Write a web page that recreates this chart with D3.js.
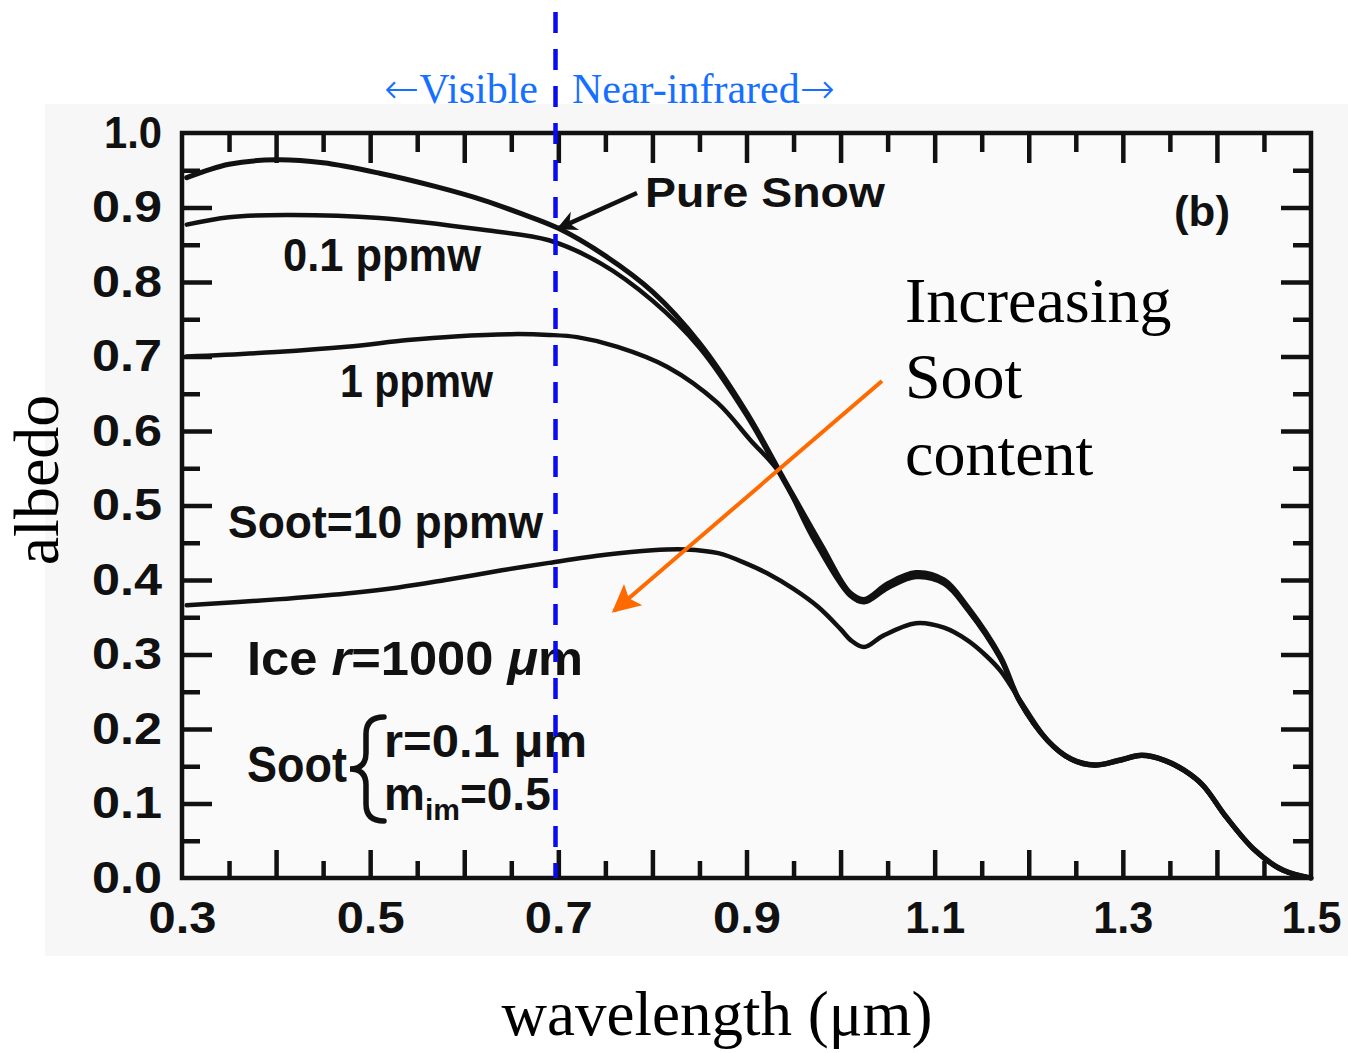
<!DOCTYPE html>
<html>
<head>
<meta charset="utf-8">
<title>Snow albedo vs wavelength</title>
<script src="https://cdn.jsdelivr.net/npm/d3@7"></script>
<style>
  body { margin: 0; background: #fff; }
  .scan { font-family: "Liberation Sans", Arial, sans-serif; font-weight: bold; fill: #111; }
  .serif { font-family: "Liberation Serif", "Times New Roman", serif; }
  .arrowGlyph { font-family: "DejaVu Sans", sans-serif; font-weight: 200; }
</style>
</head>
<body>
<svg id="chart"></svg>
<script>
// ---- data (wavelength in µm, albedo) ----
var snowWl  = [0.305,0.35,0.40,0.45,0.51,0.57,0.62,0.66,0.70,0.75,0.80,0.85,0.90,0.94,0.98,1.01,1.025,1.05,1.08,1.11,1.135,1.17,1.19,1.22,1.245,1.27,1.295,1.32,1.345,1.365,1.385,1.41,1.44,1.47,1.50];
var snowAlb = [0.94,0.958,0.964,0.96,0.946,0.928,0.91,0.892,0.872,0.835,0.787,0.718,0.625,0.535,0.446,0.383,0.374,0.395,0.41,0.40,0.364,0.297,0.239,0.185,0.16,0.152,0.158,0.165,0.158,0.145,0.125,0.082,0.038,0.011,0.0];

var soot01Wl  = [0.305,0.35,0.41,0.51,0.62,0.69,0.745,0.80,0.85,0.90,0.94,0.98,1.01,1.025,1.05,1.08,1.11,1.135,1.17,1.19,1.22,1.245,1.27,1.295,1.32,1.345,1.365,1.385,1.41,1.44,1.47,1.50];
var soot01Alb = [0.877,0.887,0.89,0.886,0.87,0.856,0.825,0.775,0.712,0.621,0.532,0.443,0.381,0.372,0.392,0.407,0.397,0.361,0.295,0.238,0.184,0.159,0.151,0.157,0.164,0.157,0.144,0.124,0.081,0.037,0.010,0.0];

var soot1Wl  = [0.305,0.40,0.475,0.54,0.59,0.65,0.69,0.72,0.763,0.816,0.869,0.904,0.935,0.97,1.01,1.025,1.05,1.08,1.11,1.135,1.17,1.19,1.22,1.245,1.27,1.295,1.32,1.345,1.365,1.385,1.41,1.44,1.47,1.50];
var soot1Alb = [0.70,0.706,0.713,0.722,0.727,0.73,0.729,0.726,0.713,0.686,0.638,0.588,0.544,0.458,0.379,0.370,0.389,0.404,0.395,0.360,0.294,0.237,0.184,0.159,0.151,0.157,0.164,0.157,0.144,0.124,0.081,0.037,0.010,0.0];

var soot10Wl  = [0.305,0.40,0.475,0.53,0.58,0.64,0.69,0.75,0.80,0.835,0.87,0.90,0.922,0.95,0.976,1.00,1.011,1.025,1.045,1.08,1.11,1.135,1.155,1.17,1.19,1.22,1.245,1.27,1.295,1.32,1.345,1.365,1.385,1.41,1.44,1.47,1.50];
var soot10Alb = [0.366,0.374,0.382,0.39,0.40,0.413,0.423,0.434,0.44,0.441,0.436,0.422,0.409,0.388,0.364,0.334,0.319,0.31,0.325,0.342,0.336,0.319,0.298,0.278,0.24,0.185,0.16,0.152,0.158,0.165,0.158,0.145,0.125,0.082,0.038,0.011,0.0];

var xLabels = [0.3, 0.5, 0.7, 0.9, 1.1, 1.3, 1.5];
var yLabels = [0, 0.1, 0.2, 0.3, 0.4, 0.5, 0.6, 0.7, 0.8, 0.9, 1.0];
var boundaryWl = 0.697;   // visible / near-infrared divide

var width = 1348, height = 1053;
var svg = d3.select("#chart").attr("width", width).attr("height", height);

var x = d3.scaleLinear().domain([0.3, 1.5]).range([182, 1311]);
var y = d3.scaleLinear().domain([0, 1]).range([878, 133]);

// scanned-paper background
svg.append("rect").attr("x", 45).attr("y", 104).attr("width", width - 45).attr("height", 852)
  .attr("fill", "#f7f7f7");
svg.append("rect").attr("x", x(0.3)).attr("y", y(1)).attr("width", x(1.5) - x(0.3)).attr("height", y(0) - y(1))
  .attr("fill", "#fafafa");

// inward ticks on all four sides: long every 0.1, short in between
var xMajor = d3.range(4, 15).map(function (d) { return d / 10; });
var xMinor = d3.range(3, 15).map(function (d) { return d / 10 + 0.05; });
var yMajor = d3.range(1, 10).map(function (d) { return d / 10; });
var yMinor = d3.range(0, 10).map(function (d) { return d / 10 + 0.05; });

function tickAxis(gen, scale, vals, size, tx, ty) {
  var g = svg.append("g").attr("transform", "translate(" + tx + "," + ty + ")")
    .call(gen(scale).tickValues(vals).tickSize(size).tickSizeOuter(0).tickFormat(""));
  g.select(".domain").remove();
  g.selectAll("line").attr("stroke", "#111").attr("stroke-width", 4.5);
}
tickAxis(d3.axisBottom, x, xMajor, -28, 0, y(0));
tickAxis(d3.axisBottom, x, xMinor, -17, 0, y(0));
tickAxis(d3.axisTop, x, xMajor, -30, 0, y(1));
tickAxis(d3.axisTop, x, xMinor, -19, 0, y(1));
tickAxis(d3.axisLeft, y, yMajor, -30, x(0.3), 0);
tickAxis(d3.axisLeft, y, yMinor, -18, x(0.3), 0);
tickAxis(d3.axisRight, y, yMajor, -30, x(1.5), 0);
tickAxis(d3.axisRight, y, yMinor, -18, x(1.5), 0);

// frame
svg.append("rect").attr("x", x(0.3)).attr("y", y(1)).attr("width", x(1.5) - x(0.3)).attr("height", y(0) - y(1))
  .attr("fill", "none").attr("stroke", "#111").attr("stroke-width", 4.5);

// tick labels
var xl = svg.append("g").attr("transform", "translate(0," + y(0) + ")")
  .call(d3.axisBottom(x).tickValues(xLabels).tickSize(0).tickPadding(24).tickFormat(d3.format(".1f")));
xl.select(".domain").remove();
xl.selectAll("text").attr("class", "scan").style("font-size", "44px")
  .attr("dy", "0.71em").attr("textLength", function (d) { return d >= 1 ? 60 : 68; })
  .attr("lengthAdjust", "spacingAndGlyphs");

var yl = svg.append("g").attr("transform", "translate(" + (x(0.3) - 20) + ",0)")
  .call(d3.axisLeft(y).tickValues(yLabels).tickSize(0).tickPadding(0).tickFormat(d3.format(".1f")));
yl.select(".domain").remove();
yl.selectAll("text").attr("class", "scan").style("font-size", "44px")
  .attr("textLength", function (d) { return d === 1 ? 58 : 70; })
  .attr("lengthAdjust", "spacingAndGlyphs");

// curves
var line = d3.line().x(function (d) { return x(d[0]); }).y(function (d) { return y(d[1]); })
  .curve(d3.curveCatmullRom.alpha(0.5));
var series = [
  { wl: soot10Wl, alb: soot10Alb, w: 4.5 },
  { wl: soot1Wl, alb: soot1Alb, w: 4.5 },
  { wl: soot01Wl, alb: soot01Alb, w: 4.5 },
  { wl: snowWl, alb: snowAlb, w: 5 }
];
series.forEach(function (s) {
  svg.append("path").datum(d3.zip(s.wl, s.alb)).attr("d", line)
    .attr("fill", "none").attr("stroke", "#111").attr("stroke-width", s.w)
    .attr("stroke-linejoin", "round").attr("stroke-linecap", "round");
});

// labels inside the scanned figure
function scanText(txt, px, py, size, len) {
  return svg.append("text").attr("class", "scan").attr("x", px).attr("y", py)
    .style("font-size", size + "px").attr("textLength", len).attr("lengthAdjust", "spacingAndGlyphs").text(txt);
}
scanText("Pure Snow", 645, 207, 42, 240);
scanText("(b)", 1174, 226, 42, 56);
scanText("0.1 ppmw", 283, 271, 46, 198);
scanText("1 ppmw", 340, 397, 46, 153);
scanText("Soot=10 ppmw", 228, 538, 46, 315);

var ice = svg.append("text").attr("class", "scan").attr("x", 247).attr("y", 675).style("font-size", "48px")
  .attr("textLength", 336).attr("lengthAdjust", "spacingAndGlyphs");
ice.append("tspan").text("Ice  ");
ice.append("tspan").style("font-style", "italic").text("r");
ice.append("tspan").text("=1000 ");
ice.append("tspan").style("font-style", "italic").text("μ");
ice.append("tspan").text("m");

scanText("Soot", 247, 782, 50, 100);
scanText("r=0.1 μm", 384, 757, 46, 203);
var mim = svg.append("text").attr("class", "scan").attr("x", 384).attr("y", 810).style("font-size", "46px");
mim.append("tspan").text("m");
mim.append("tspan").attr("dy", 10).style("font-size", "30px").text("im");
mim.append("tspan").attr("dy", -10).text("=0.5");

// curly brace joining the two soot parameters
var bp = d3.path();
bp.moveTo(384, 717);
bp.quadraticCurveTo(366, 717, 366, 734);
bp.lineTo(366, 753);
bp.quadraticCurveTo(366, 769, 350, 769);
bp.quadraticCurveTo(366, 769, 366, 785);
bp.lineTo(366, 804);
bp.quadraticCurveTo(366, 821, 384, 821);
svg.append("path").attr("d", bp.toString()).attr("fill", "none").attr("stroke", "#111")
  .attr("stroke-width", 5.5).attr("stroke-linecap", "round");

// arrow pointing at the pure-snow curve
var defs = svg.append("defs");
defs.append("marker").attr("id", "blackHead").attr("viewBox", "0 0 10 10").attr("refX", 9).attr("refY", 5)
  .attr("markerWidth", 8).attr("markerHeight", 4.5).attr("markerUnits", "strokeWidth").attr("orient", "auto")
  .append("path").attr("d", "M0,0 L10,5 L0,10 L3,5 Z").attr("fill", "#111");
svg.append("line").attr("x1", 637).attr("y1", 193).attr("x2", x(0.70)).attr("y2", y(0.872))
  .attr("stroke", "#111").attr("stroke-width", 4.5).attr("marker-end", "url(#blackHead)");

// visible / near-infrared divide
svg.append("line").attr("x1", x(boundaryWl)).attr("x2", x(boundaryWl)).attr("y1", 12).attr("y2", y(0))
  .attr("stroke", "#0a0af0").attr("stroke-width", 4.5).attr("stroke-dasharray", "21,16");

var vis = svg.append("text").attr("class", "serif").attr("x", 538).attr("y", 103).attr("text-anchor", "end")
  .style("font-size", "42px").attr("fill", "#1670ff");
vis.append("tspan").attr("class", "arrowGlyph").text("←");
vis.append("tspan").text("Visible");
var nir = svg.append("text").attr("class", "serif").attr("x", 572).attr("y", 103)
  .style("font-size", "42px").attr("fill", "#1670ff");
nir.append("tspan").text("Near-infrared");
nir.append("tspan").attr("class", "arrowGlyph").text("→");

// "Increasing Soot content" annotation with orange arrow
defs.append("marker").attr("id", "orangeHead").attr("viewBox", "0 0 10 10").attr("refX", 9).attr("refY", 5)
  .attr("markerWidth", 8).attr("markerHeight", 7).attr("markerUnits", "strokeWidth").attr("orient", "auto")
  .append("path").attr("d", "M0,0 L10,5 L0,10 L2,5 Z").attr("fill", "#ff6a00");
svg.append("line").attr("x1", 882).attr("y1", 381).attr("x2", 614).attr("y2", 611)
  .attr("stroke", "#ff6a00").attr("stroke-width", 4).attr("marker-end", "url(#orangeHead)");

var inc = svg.append("text").attr("class", "serif").attr("x", 905).attr("y", 322).style("font-size", "64px").attr("fill", "#000");
inc.append("tspan").attr("x", 905).text("Increasing");
inc.append("tspan").attr("x", 905).attr("y", 398).text("Soot");
inc.append("tspan").attr("x", 905).attr("y", 475).text("content");

// axis titles
svg.append("text").attr("class", "serif").attr("x", 717).attr("y", 1035).attr("text-anchor", "middle")
  .style("font-size", "63px").attr("fill", "#000").text("wavelength (μm)");
svg.append("text").attr("class", "serif").attr("transform", "translate(58,480) rotate(-90)")
  .attr("text-anchor", "middle").style("font-size", "64px").attr("fill", "#000").text("albedo");
</script>
</body>
</html>
